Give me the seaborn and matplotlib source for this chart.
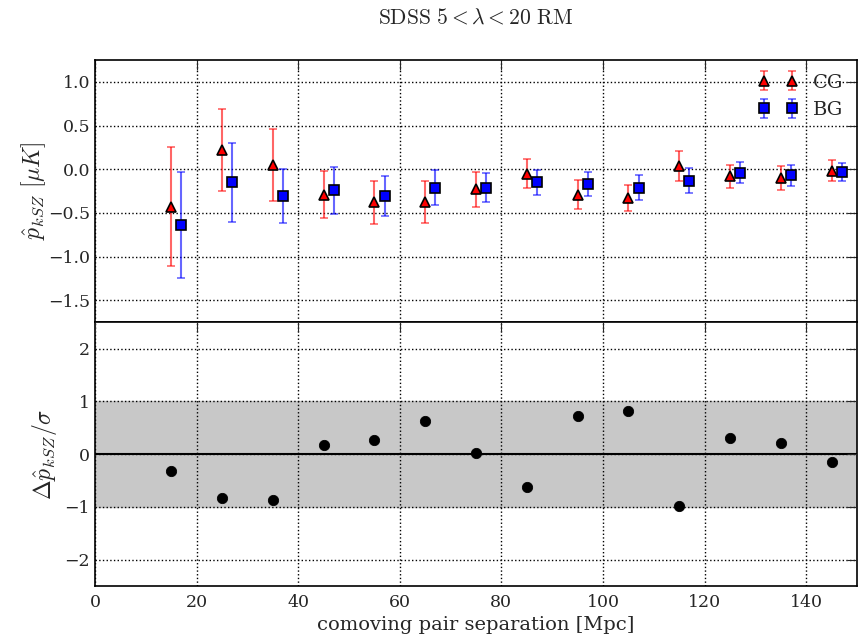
import matplotlib
matplotlib.use("Agg")
import matplotlib.pyplot as plt
import seaborn as sns
import pandas as pd
import numpy as np

# pair separation bins [Mpc]
r_cg = [15, 25, 35, 45, 55, 65, 75, 85, 95, 105, 115, 125, 135, 145]
r_bg = [17, 27, 37, 47, 57, 67, 77, 87, 97, 107, 117, 127, 137, 147]

# pairwise kSZ estimates [muK]
p_cg = [-0.43, 0.22, 0.05, -0.29, -0.38, -0.37, -0.23, -0.05, -0.29, -0.33, 0.04, -0.08, -0.10, -0.02]
err_cg = [0.68, 0.47, 0.41, 0.27, 0.25, 0.24, 0.20, 0.17, 0.17, 0.15, 0.17, 0.13, 0.14, 0.12]
p_bg = [-0.64, -0.15, -0.31, -0.24, -0.31, -0.21, -0.21, -0.15, -0.17, -0.21, -0.13, -0.04, -0.07, -0.03]
err_bg = [0.61, 0.45, 0.31, 0.27, 0.23, 0.20, 0.17, 0.14, 0.14, 0.14, 0.14, 0.12, 0.12, 0.10]

# normalised difference
delta = [-0.32, -0.84, -0.87, 0.18, 0.27, 0.63, 0.03, -0.62, 0.72, 0.81, -0.98, 0.31, 0.21, -0.15]

diff_df = pd.DataFrame({"r": r_cg, "delta": delta})

sns.set_style("white")
plt.rcParams.update({
    "font.family": "DejaVu Serif",
    "mathtext.fontset": "cm",
    "xtick.direction": "in",
    "ytick.direction": "in",
    "xtick.top": True,
    "ytick.right": True,
    "xtick.major.size": 7,
    "ytick.major.size": 7,
    "xtick.major.pad": 6,
    "xtick.labelsize": 12.5,
    "ytick.labelsize": 12.5,
    "axes.edgecolor": "black",
    "axes.linewidth": 1.2,
})

fig = plt.figure(figsize=(8.63, 6.38), dpi=100)
ax1 = fig.add_axes([0.110, 0.495, 0.883, 0.411])
ax2 = fig.add_axes([0.110, 0.0815, 0.883, 0.4135], sharex=ax1)

eb1 = ax1.errorbar(r_cg, p_cg, yerr=err_cg, fmt="^", color="red", ecolor="red",
                   mec="black", mew=1.2, ms=7, elinewidth=1.5, capsize=3, capthick=1.5,
                   label="CG")
eb2 = ax1.errorbar(r_bg, p_bg, yerr=err_bg, fmt="s", color="blue", ecolor="blue",
                   mec="black", mew=1.2, ms=7, elinewidth=1.5, capsize=3, capthick=1.5,
                   label="BG")
for eb in (eb1, eb2):
    for c in eb[1]:
        c.set_alpha(0.6)
    for c in eb[2]:
        c.set_alpha(0.6)

ax1.set_ylim(-1.75, 1.25)
ax1.set_yticks([-1.5, -1.0, -0.5, 0.0, 0.5, 1.0])
ax1.set_ylabel(r"$\hat{p}_{kSZ}\ [\mu K]$", fontsize=17, labelpad=0)
ax1.grid(True, ls=":", color="black", lw=1)
ax1.tick_params(labelbottom=False)
ax1.legend(loc="upper right", numpoints=2, frameon=False, fontsize=14,
           handletextpad=0.8, labelspacing=0.5, handlelength=2.0,
           borderaxespad=0.3)

ax2.axhspan(-1, 1, color="#c8c8c8", zorder=0)
ax2.axhline(0, color="black", lw=1.5, zorder=1)
sns.scatterplot(data=diff_df, x="r", y="delta", ax=ax2, color="black",
                s=55, edgecolor="black", zorder=3, legend=False)
ax2.set_ylim(-2.5, 2.5)
ax2.set_yticks([-2, -1, 0, 1, 2])
ax2.set_xlim(0, 150)
ax2.set_xticks([0, 20, 40, 60, 80, 100, 120, 140])
ax2.grid(True, ls=":", color="black", lw=1)
ax2.set_axisbelow(False)
ax2.set_ylabel(r"$\Delta\hat{p}_{kSZ}/\sigma$", fontsize=17, labelpad=4)
ax2.set_xlabel("comoving pair separation [Mpc]", fontsize=14, labelpad=3)

fig.suptitle(r"$\mathrm{SDSS}\ 5<\lambda<20\ \mathrm{RM}$", x=0.551, y=0.99, fontsize=15.5)

fig.savefig("out.png", dpi=100)
plt.close("all")
